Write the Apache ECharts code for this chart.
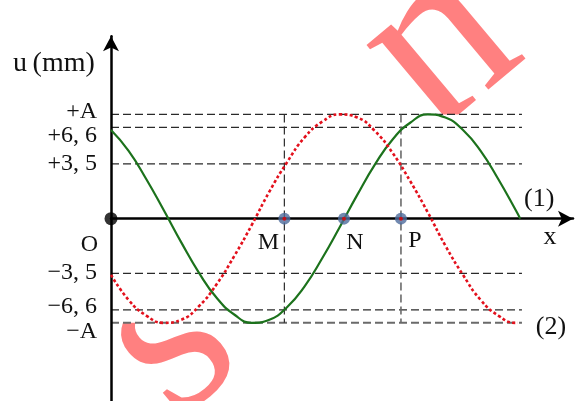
<!DOCTYPE html>
<html>
<head>
<meta charset="utf-8">
<script src="https://cdn.jsdelivr.net/npm/echarts@6/dist/echarts.min.js"></script>
<style>
  html, body { margin: 0; padding: 0; background: #fff; }
  #chart { width: 584px; height: 401px; }
</style>
</head>
<body>
<div id="chart"></div>
<script>
// Positions along the string (one wavelength = 80 units) and displacements u/A.
const xs    = [0, 4, 8, 12, 16, 20, 24, 28, 32, 36, 40, 44, 48, 52, 56, 60, 64, 68, 72, 76, 80, 84, 88, 92];
const wave1 = [0.85, 0.65, 0.38, 0.08, -0.23, -0.52, -0.76, -0.92, -1.0, -0.97, -0.85, -0.65, -0.38, -0.08, 0.23, 0.52, 0.76, 0.92, 1.0, 0.97, 0.85, 0.65, 0.38, 0.08];
const wave1End = [93, 0];
const wave2 = [-0.54, -0.78, -0.93, -1.0, -0.97, -0.84, -0.63, -0.36, -0.06, 0.26, 0.54, 0.78, 0.93, 1.0, 0.97, 0.84, 0.63, 0.36, 0.06, -0.26, -0.54, -0.78, -0.93, -1.0];
const wave2End = [92.5, -1.0];

// Reference levels on the u axis and their labels.
const levelValues = [1, 0.875, 0.525, -0.525, -0.875, -1];
const levelLabels = ['+A', '+6, 6', '+3, 5', '\u22123, 5', '\u22126, 6', '\u2212A'];

// Points on the string.
const pointNames = ['M', 'N', 'P'];
const pointX     = [39.4, 52.95, 65.9];
const guideNames = ['M', 'P'];          // points that get a vertical guide
const guideEnd   = 93.4;                // right end of the horizontal guides

// Watermark letters (the middle one sits behind the figure band).
const markLetters = ['s', 'n'];

const serif = 'Liberation Serif';
const chart = echarts.init(document.getElementById('chart'), null, { renderer: 'canvas' });

const series = [];

levelValues.forEach((v, i) => {
  const outer = v === -1;
  series.push({
    type: 'line', silent: true, symbol: 'none', z: 10,
    data: [[0, v], [guideEnd, v]],
    lineStyle: { color: outer ? '#6a6a6a' : '#2a2a2a', width: outer ? 2 : 1.2, type: [8, 4] }
  });
});

guideNames.forEach(name => {
  const x = pointX[pointNames.indexOf(name)];
  const grey = name === 'P';
  series.push({
    type: 'line', silent: true, symbol: 'none', z: 10,
    data: [[x, 1], [x, -1]],
    lineStyle: { color: grey ? '#6a6a6a' : '#2a2a2a', width: grey ? 1.6 : 1.2, type: [8, 4] }
  });
});

series.push({
  name: '(1)', type: 'line', smooth: true, symbol: 'none', z: 12,
  data: xs.map((x, i) => [x, wave1[i]]).concat([wave1End]),
  lineStyle: { color: '#1c721c', width: 2.2 }
});
series.push({
  name: '(2)', type: 'line', smooth: true, symbol: 'none', z: 12,
  data: xs.map((x, i) => [x, wave2[i]]).concat([wave2End]),
  lineStyle: { color: '#e3101c', width: 2.6, type: [3, 2.4] }
});

// Source O and the marked points.
series.push({
  type: 'scatter', silent: true, z: 14, symbolSize: 13,
  itemStyle: { color: '#000' }, data: [[0, 0]]
});
series.push({
  type: 'scatter', silent: true, z: 14, symbolSize: 12,
  itemStyle: { color: '#4d6c9c' }, data: pointX.map(x => [x, 0])
});
series.push({
  type: 'scatter', silent: true, z: 15, symbolSize: 4,
  itemStyle: { color: '#e00000' }, data: pointX.map(x => [x, 0])
});

const axisCommon = {
  type: 'value', z: 11,
  axisTick: { show: false }, axisLabel: { show: false }, splitLine: { show: false },
  axisLine: { show: true, symbol: ['none', 'arrow'], symbolSize: [12, 15],
              lineStyle: { color: '#000', width: 2.5 } }
};

chart.setOption({
  animation: false,
  backgroundColor: '#fff',
  grid: { left: 111, top: 36.25, width: 462, height: 367.5 },
  xAxis: Object.assign({}, axisCommon, { min: 0, max: 105 }),
  yAxis: Object.assign({}, axisCommon, { min: -1.75, max: 1.75 }),
  series: series
});

// Text placed relative to the axes.
const px = (x, y) => chart.convertToPixel({ gridIndex: 0 }, [x, y]);
const txt = (text, x, y, size, align) => ({
  type: 'text', x: x, y: y, z: 20, silent: true,
  style: { text: text, fontFamily: serif, fontSize: size, fill: '#111',
           align: align || 'center', verticalAlign: 'middle' }
});

const levelNudge = [-3, 8, 0, -1, -3, 9];
const origin = px(0, 0);
const graphics = [];

// Watermark lettering behind the figure, masked inside the plotting band.
const markAt = { s: [170, 343], n: [440, 46] };
markLetters.forEach(ch => {
  graphics.push({
    type: 'text', x: markAt[ch][0], y: markAt[ch][1], rotation: 40 * Math.PI / 180, z: 1, silent: true,
    style: { text: ch, fontFamily: serif, fontSize: 245, fill: '#ff8080', align: 'center', verticalAlign: 'middle' }
  });
});
const bandTop = px(0, 1)[1], bandBottom = px(0, -1)[1];
graphics.push({
  type: 'rect', z: 2, silent: true,
  shape: { x: 0, y: bandTop, width: 584, height: bandBottom - bandTop },
  style: { fill: '#fff' }
});

levelValues.forEach((v, i) => {
  graphics.push(txt(levelLabels[i], origin[0] - 14, px(0, v)[1] + levelNudge[i], 24, 'right'));
});
graphics.push(txt('O', origin[0] - 13, origin[1] + 26, 24, 'right'));
graphics.push(txt('u\u2009(mm)', 13, 64, 28, 'left'));

const labelOffset = { M: [-16, 24], N: [11, 24], P: [14, 22] };
pointNames.forEach((n, i) => {
  const p = px(pointX[i], 0);
  graphics.push(txt(n, p[0] + labelOffset[n][0], p[1] + labelOffset[n][1], 24));
});
const xEnd = px(105, 0);
graphics.push(txt('x', xEnd[0] - 23, xEnd[1] + 19, 26));
const w1 = px(wave1End[0], wave1End[1]);
graphics.push(txt('(1)', w1[0] + 19, w1[1] - 19, 26));
const w2 = px(wave2End[0], wave2End[1]);
graphics.push(txt('(2)', w2[0] + 33, w2[1] + 4, 26));

chart.setOption({ graphic: graphics });
</script>
</body>
</html>
